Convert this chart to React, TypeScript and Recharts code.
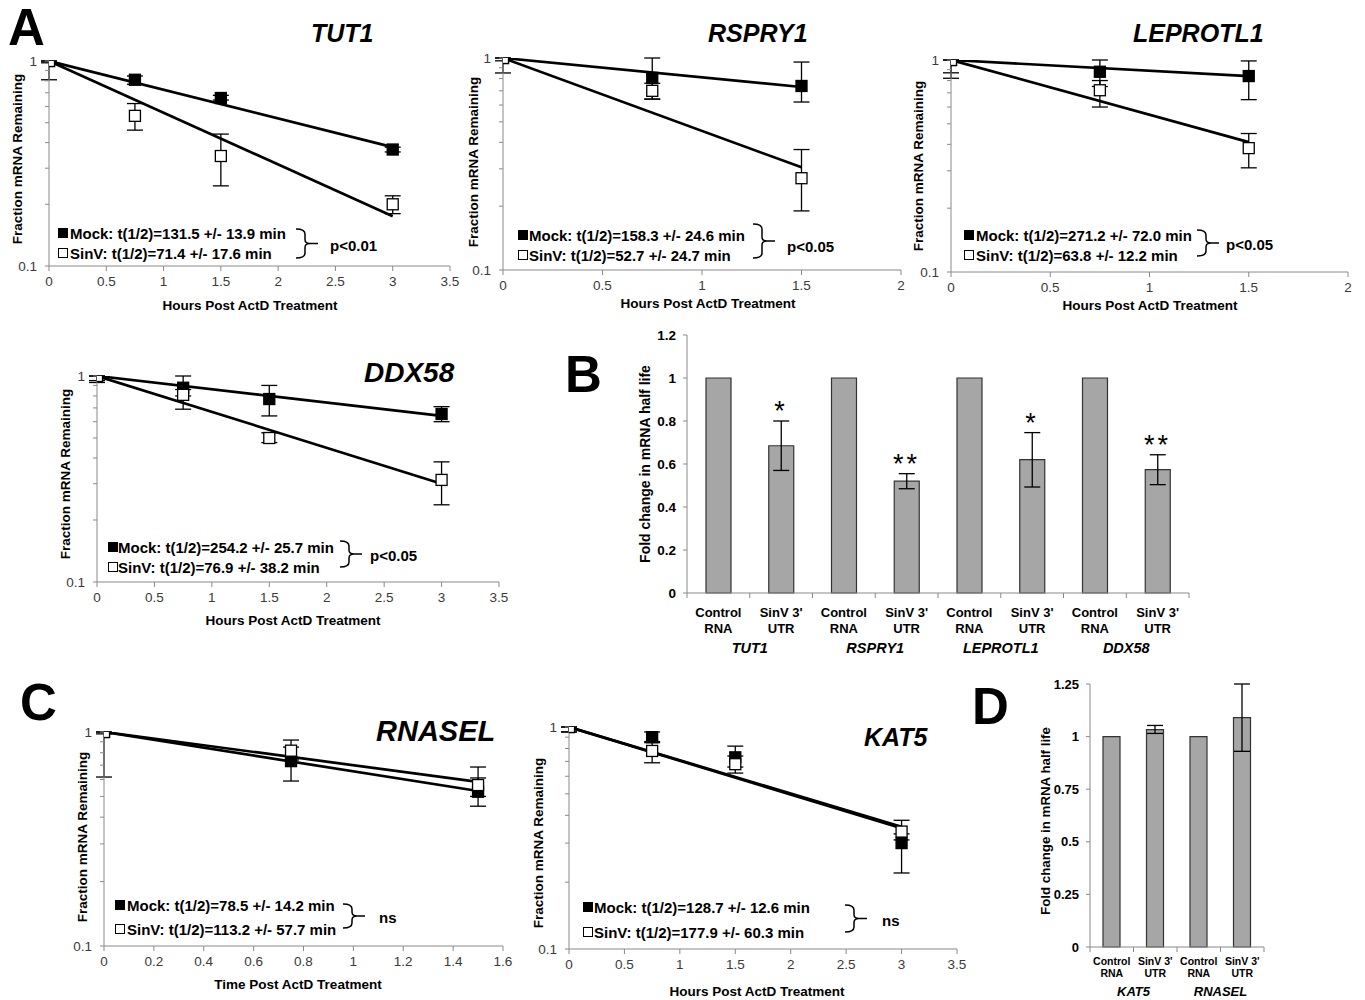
import React from "react";
import {
  ComposedChart,
  Scatter,
  Line,
  Bar,
  XAxis,
  YAxis,
  ErrorBar,
  ReferenceDot,
} from "recharts";

const FONT = "'Liberation Sans', Arial, Helvetica, sans-serif";
const AXIS = "#8a8a8a";
const TICK = "#3a3a3a";

// ---------- decay curves (A, C) ----------
const logTicks = [0.1, 0.2, 0.3, 0.4, 0.5, 0.6, 0.7, 0.8, 0.9, 1];
const ticks35 = [0, 0.5, 1, 1.5, 2, 2.5, 3, 3.5];
const ticks2 = [0, 0.5, 1, 1.5, 2];
const ticks16 = [0, 0.2, 0.4, 0.6, 0.8, 1, 1.2, 1.4, 1.6];

const hours4 = [0, 0.75, 1.5, 3];
const hours3 = [0, 0.75, 1.5];

// TUT1
const tut1Mock = [1, 0.81, 0.66, 0.37];
const tut1MockLo = [0.81, 0.77, 0.645, 0.36];
const tut1MockHi = [1, 0.845, 0.68, 0.38];
const tut1Sinv = [1, 0.54, 0.344, 0.2];
const tut1SinvLo = [0.98, 0.46, 0.246, 0.18];
const tut1SinvHi = [1, 0.62, 0.44, 0.22];
const tut1Fit = { mock: [1, 0.38], sinv: [1, 0.175] };

// RSPRY1
const rspMock = [1, 0.805, 0.738];
const rspMockLo = [0.85, 0.64, 0.62];
const rspMockHi = [1, 1.0, 0.957];
const rspSinv = [1, 0.7, 0.271];
const rspSinvLo = [0.97, 0.64, 0.19];
const rspSinvHi = [1, 0.76, 0.37];
const rspFit = { mock: [1, 0.73], sinv: [1, 0.305] };

// LEPROTL1
const lepMock = [1, 0.88, 0.84];
const lepMockLo = [0.82, 0.75, 0.65];
const lepMockHi = [1, 1.0, 0.99];
const lepSinv = [1, 0.72, 0.384];
const lepSinvLo = [0.87, 0.6, 0.31];
const lepSinvHi = [1, 0.8, 0.45];
const lepFit = { mock: [1, 0.84], sinv: [1, 0.41] };

// DDX58
const ddxMock = [1, 0.877, 0.773, 0.654];
const ddxMockLo = [0.93, 0.8, 0.64, 0.6];
const ddxMockHi = [1, 1.0, 0.9, 0.71];
const ddxSinv = [1, 0.81, 0.5, 0.313];
const ddxSinvLo = [0.95, 0.69, 0.475, 0.237];
const ddxSinvHi = [1, 0.86, 0.53, 0.383];
const ddxFit = { mock: [1, 0.64], sinv: [1, 0.3] };

// RNASEL
const rnaMock = [1, 0.731, 0.526];
const rnaMockLo = [0.616, 0.59, 0.45];
const rnaMockHi = [1, 0.85, 0.61];
const rnaSinv = [1, 0.818, 0.565];
const rnaSinvLo = [0.98, 0.74, 0.5];
const rnaSinvHi = [1, 0.917, 0.686];
const rnaFit = { mock: [1, 0.53], sinv: [1, 0.585] };

// KAT5
const katMock = [1, 0.9, 0.73, 0.3];
const katMockLo = [0.95, 0.86, 0.66, 0.22];
const katMockHi = [1, 0.95, 0.82, 0.33];
const katSinv = [1, 0.78, 0.68, 0.338];
const katSinvLo = [0.95, 0.69, 0.62, 0.31];
const katSinvHi = [1, 0.85, 0.74, 0.38];
const katFit = { mock: [1, 0.35], sinv: [1, 0.355] };

// ---------- fold change bars (B, D) ----------
const bKeys = ["TUT1-c", "TUT1-s", "RSPRY1-c", "RSPRY1-s", "LEPROTL1-c", "LEPROTL1-s", "DDX58-c", "DDX58-s"];
const bValues = [1, 0.685, 1, 0.52, 1, 0.62, 1, 0.574];
const bErrLo = [null, 0.57, null, 0.485, null, 0.493, null, 0.504];
const bErrHi = [null, 0.8, null, 0.555, null, 0.746, null, 0.643];
const bStars = ["", "*", "", "**", "", "*", "", "**"];
const bGenes = ["TUT1", "RSPRY1", "LEPROTL1", "DDX58"];
const bTicks = [0, 0.2, 0.4, 0.6, 0.8, 1, 1.2];

const dKeys = ["KAT5-c", "KAT5-s", "RNASEL-c", "RNASEL-s"];
const dValues = [1, 1.033, 1, 1.09];
const dErrLo = [null, 1.015, null, 0.93];
const dErrHi = [null, 1.053, null, 1.25];
const dGenes = ["KAT5", "RNASEL"];
const dTicks = [0, 0.25, 0.5, 0.75, 1, 1.25];

const catTop = ["Control", "SinV 3'"];
const catBottom = ["RNA", "UTR"];

const pts = (xs: number[], ys: number[], lo: number[], hi: number[]) =>
  xs.map((x, i) => ({ x, y: ys[i], err: [ys[i] - lo[i], hi[i] - ys[i]] }));
const fitLine = (xs: number[], ys: number[]) => [
  { x: xs[0], y: ys[0] },
  { x: xs[xs.length - 1], y: ys[1] },
];
const bars = (keys: string[], vals: number[], lo: any[], hi: any[]) =>
  keys.map((key, i) => ({
    key,
    v: vals[i],
    err: lo[i] == null ? null : [vals[i] - lo[i], hi[i] - vals[i]],
  }));

const square = (fill: string) => (p: any) => (
  <rect x={p.cx - 5.5} y={p.cy - 5.5} width={11} height={11} fill={fill} stroke="#000" strokeWidth={1.3} />
);

function DecayChart({ box, xTicks, mock, sinv, fitMock, fitSinv }: any) {
  const [px, py, pw, ph] = box;
  return (
    <div style={{ position: "absolute", left: px - 45, top: py - 10 }}>
      <ComposedChart width={pw + 55} height={ph + 40} margin={{ top: 10, right: 10, left: 0, bottom: 0 }}>
        <XAxis
          type="number"
          dataKey="x"
          domain={[0, xTicks[xTicks.length - 1]]}
          ticks={xTicks}
          interval={0}
          allowDataOverflow
          height={30}
          tickSize={5}
          tickMargin={5}
          axisLine={{ stroke: AXIS }}
          tickLine={{ stroke: AXIS }}
          tick={{ fontSize: 13.5, fill: TICK, fontFamily: FONT }}
        />
        <YAxis
          type="number"
          dataKey="y"
          scale="log"
          domain={[0.1, 1]}
          ticks={logTicks}
          interval={0}
          allowDataOverflow
          width={45}
          tickSize={4}
          tickMargin={8}
          axisLine={{ stroke: AXIS }}
          tickLine={{ stroke: AXIS }}
          tick={{ fontSize: 13.5, fill: TICK, fontFamily: FONT }}
          tickFormatter={(v: number) => (v === 1 || v === 0.1 ? String(v) : "")}
        />
        <Scatter data={mock} dataKey="y" shape={square("#000")} isAnimationActive={false}>
          <ErrorBar dataKey="err" direction="y" width={8} stroke="#000" strokeWidth={1.3} />
        </Scatter>
        <Scatter data={sinv} dataKey="y" shape={square("#fff")} isAnimationActive={false}>
          <ErrorBar dataKey="err" direction="y" width={8} stroke="#000" strokeWidth={1.3} />
        </Scatter>
        <Line data={fitMock} dataKey="y" dot={false} stroke="#000" strokeWidth={2.7} isAnimationActive={false} />
        <Line data={fitSinv} dataKey="y" dot={false} stroke="#000" strokeWidth={2.7} isAnimationActive={false} />
      </ComposedChart>
    </div>
  );
}

function makeCatTick(band: number, genes: string[], size: number, geneSize: number, rows: number[]) {
  return (props: any) => {
    const { x, y, index, visibleTicksCount } = props;
    const last = index === (visibleTicksCount ?? 0) - 1;
    return (
      <g fontFamily={FONT} fontWeight="bold" textAnchor="middle" fill="#000">
        <line x1={x - band / 2} x2={x - band / 2} y1={y} y2={y + 5} stroke={AXIS} />
        {last && <line x1={x + band / 2} x2={x + band / 2} y1={y} y2={y + 5} stroke={AXIS} />}
        <text x={x} y={y + rows[0]} fontSize={size} dominantBaseline="central">
          {catTop[index % 2]}
        </text>
        <text x={x} y={y + rows[1]} fontSize={size} dominantBaseline="central">
          {catBottom[index % 2]}
        </text>
        {index % 2 === 0 && (
          <text x={x + band / 2} y={y + rows[2]} fontSize={geneSize} fontStyle="italic" dominantBaseline="central">
            {genes[index / 2]}
          </text>
        )}
      </g>
    );
  };
}

function FoldChart({ box, data, ticks, barSize, genes, stars, errHi, keys, labelSize, geneSize, rows, tickFont }: any) {
  const [px, py, pw, ph] = box;
  const band = pw / data.length;
  return (
    <div style={{ position: "absolute", left: px - 50, top: py - 10 }}>
      <ComposedChart width={pw + 60} height={ph + 80} data={data} margin={{ top: 10, right: 10, left: 0, bottom: 0 }}>
        <XAxis
          dataKey="key"
          type="category"
          interval={0}
          height={70}
          tickLine={false}
          tickSize={0}
          tickMargin={0}
          axisLine={{ stroke: AXIS }}
          tick={makeCatTick(band, genes, labelSize, geneSize, rows)}
        />
        <YAxis
          type="number"
          domain={[ticks[0], ticks[ticks.length - 1]]}
          ticks={ticks}
          interval={0}
          width={50}
          tickSize={4}
          tickMargin={7}
          axisLine={{ stroke: AXIS }}
          tickLine={{ stroke: AXIS }}
          tick={{ fontSize: tickFont, fill: "#000", fontWeight: "bold", fontFamily: FONT }}
        />
        <Bar dataKey="v" barSize={barSize} fill="#a6a6a6" stroke="#333" strokeWidth={1.2} isAnimationActive={false}>
          <ErrorBar dataKey="err" direction="y" width={8} stroke="#000" strokeWidth={1.3} />
        </Bar>
        {stars &&
          stars.map((s: string, i: number) =>
            s ? (
              <ReferenceDot
                key={keys[i]}
                x={keys[i]}
                y={errHi[i]}
                r={0}
                fill="none"
                stroke="none"
                label={{ value: s, position: "top", offset: 1, fontSize: 27, fill: "#000", fontFamily: FONT, letterSpacing: 3 }}
              />
            ) : null
          )}
      </ComposedChart>
    </div>
  );
}

// ---------- overlay text ----------
const legends = [
  ["Mock: t(1/2)=131.5 +/- 13.9 min", "SinV: t(1/2)=71.4 +/- 17.6 min", "p<0.01"],
  ["Mock: t(1/2)=158.3 +/- 24.6 min", "SinV: t(1/2)=52.7 +/- 24.7 min", "p<0.05"],
  ["Mock: t(1/2)=271.2 +/- 72.0 min", "SinV: t(1/2)=63.8 +/- 12.2 min", "p<0.05"],
  ["Mock: t(1/2)=254.2 +/- 25.7 min", "SinV: t(1/2)=76.9 +/- 38.2 min", "p<0.05"],
  ["Mock: t(1/2)=78.5 +/- 14.2 min", "SinV: t(1/2)=113.2 +/- 57.7 min", "ns"],
  ["Mock: t(1/2)=128.7 +/- 12.6 min", "SinV: t(1/2)=177.9 +/- 60.3 min", "ns"],
];

function Legend({ txt, sq, tx, y1, y2, bx, by0, by1, pxp, py }: any) {
  const m = (by0 + by1) / 2;
  const v = bx + 9;
  return (
    <g fontFamily={FONT} fontWeight="bold" fontSize={15} fill="#000">
      <rect x={sq} y={y1 - 5} width={10} height={10} fill="#000" />
      <rect x={sq + 0.5} y={y2 - 4.5} width={9} height={9} fill="#fff" stroke="#000" strokeWidth={1} />
      <text x={tx} y={y1} dominantBaseline="central">{txt[0]}</text>
      <text x={tx} y={y2} dominantBaseline="central">{txt[1]}</text>
      <path
        d={`M${bx} ${by0} Q${v} ${by0} ${v} ${by0 + 5} L${v} ${m - 4} Q${v} ${m} ${v + 5} ${m} L${bx + 22} ${m} M${v + 5} ${m} Q${v} ${m} ${v} ${m + 4} L${v} ${by1 - 5} Q${v} ${by1} ${bx} ${by1}`}
        fill="none"
        stroke="#000"
        strokeWidth={1.5}
      />
      <text x={pxp} y={py} dominantBaseline="central">{txt[2]}</text>
    </g>
  );
}

function AxisTitles({ x, xy, y, yy, label, size = 13.5 }: any) {
  return (
    <g fontFamily={FONT} fontWeight="bold" fontSize={size} fill="#000" textAnchor="middle">
      <text x={x} y={xy} dominantBaseline="central">{label ?? "Hours Post ActD Treatment"}</text>
      <text x={y} y={yy} dominantBaseline="central" transform={`rotate(-90 ${y} ${yy})`}>
        Fraction mRNA Remaining
      </text>
    </g>
  );
}

export default function App() {
  const title = (t: string, x: number, y: number, s: number) => (
    <text x={x} y={y} fontFamily={FONT} fontWeight="bold" fontStyle="italic" fontSize={s} dominantBaseline="central">
      {t}
    </text>
  );
  const letter = (t: string, x: number, y: number) => (
    <text x={x} y={y} fontFamily={FONT} fontWeight="bold" fontSize={51}>
      {t}
    </text>
  );
  return (
    <div style={{ position: "absolute", left: 0, top: 0, width: 1365, height: 1000, background: "#fff" }}>
      <DecayChart
        box={[49, 61, 401, 205]}
        xTicks={ticks35}
        mock={pts(hours4, tut1Mock, tut1MockLo, tut1MockHi)}
        sinv={pts(hours4, tut1Sinv, tut1SinvLo, tut1SinvHi)}
        fitMock={fitLine(hours4, tut1Fit.mock)}
        fitSinv={fitLine(hours4, tut1Fit.sinv)}
      />
      <DecayChart
        box={[503, 58, 398, 212]}
        xTicks={ticks2}
        mock={pts(hours3, rspMock, rspMockLo, rspMockHi)}
        sinv={pts(hours3, rspSinv, rspSinvLo, rspSinvHi)}
        fitMock={fitLine(hours3, rspFit.mock)}
        fitSinv={fitLine(hours3, rspFit.sinv)}
      />
      <DecayChart
        box={[951, 60, 397, 212]}
        xTicks={ticks2}
        mock={pts(hours3, lepMock, lepMockLo, lepMockHi)}
        sinv={pts(hours3, lepSinv, lepSinvLo, lepSinvHi)}
        fitMock={fitLine(hours3, lepFit.mock)}
        fitSinv={fitLine(hours3, lepFit.sinv)}
      />
      <DecayChart
        box={[97, 376, 402, 206]}
        xTicks={ticks35}
        mock={pts(hours4, ddxMock, ddxMockLo, ddxMockHi)}
        sinv={pts(hours4, ddxSinv, ddxSinvLo, ddxSinvHi)}
        fitMock={fitLine(hours4, ddxFit.mock)}
        fitSinv={fitLine(hours4, ddxFit.sinv)}
      />
      <DecayChart
        box={[104, 732, 399, 214]}
        xTicks={ticks16}
        mock={pts(hours3, rnaMock, rnaMockLo, rnaMockHi)}
        sinv={pts(hours3, rnaSinv, rnaSinvLo, rnaSinvHi)}
        fitMock={fitLine(hours3, rnaFit.mock)}
        fitSinv={fitLine(hours3, rnaFit.sinv)}
      />
      <DecayChart
        box={[569, 727, 388, 222]}
        xTicks={ticks35}
        mock={pts(hours4, katMock, katMockLo, katMockHi)}
        sinv={pts(hours4, katSinv, katSinvLo, katSinvHi)}
        fitMock={fitLine(hours4, katFit.mock)}
        fitSinv={fitLine(hours4, katFit.sinv)}
      />
      <FoldChart
        box={[687, 335, 502, 258]}
        data={bars(bKeys, bValues, bErrLo, bErrHi)}
        ticks={bTicks}
        barSize={25}
        genes={bGenes}
        stars={bStars}
        errHi={bErrHi}
        keys={bKeys}
        labelSize={13}
        geneSize={14.5}
        rows={[19, 35, 55]}
        tickFont={13.5}
      />
      <FoldChart
        box={[1090, 684, 174, 263]}
        data={bars(dKeys, dValues, dErrLo, dErrHi)}
        ticks={dTicks}
        barSize={17}
        genes={dGenes}
        keys={dKeys}
        errHi={dErrHi}
        labelSize={10.5}
        geneSize={13}
        rows={[14, 26, 44]}
        tickFont={13}
      />
      <svg width={1365} height={1000} style={{ position: "absolute", left: 0, top: 0, pointerEvents: "none" }}>
        {letter("A", 8, 45)}
        {letter("B", 565, 392)}
        {letter("C", 20, 720)}
        {letter("D", 972, 724)}

        {title("TUT1", 311, 33, 25)}
        {title("RSPRY1", 708, 33, 25)}
        {title("LEPROTL1", 1133, 33, 25)}
        {title("DDX58", 364, 372, 28)}
        {title("RNASEL", 376, 731, 29)}
        {title("KAT5", 864, 737, 25)}

        <Legend txt={legends[0]} sq={58} tx={70} y1={233} y2={253} bx={296} by0={229} by1={258} pxp={330} py={245} />
        <Legend txt={legends[1]} sq={518} tx={529} y1={235} y2={255} bx={753} by0={224} by1={258} pxp={787} py={246} />
        <Legend txt={legends[2]} sq={964} tx={976} y1={235} y2={255} bx={1197} by0={230} by1={256} pxp={1226} py={244} />
        <Legend txt={legends[3]} sq={108} tx={118} y1={547} y2={567} bx={340} by0={541} by1={567} pxp={370} py={555} />
        <Legend txt={legends[4]} sq={115} tx={127} y1={905} y2={929} bx={343} by0={904} by1={928} pxp={379} py={917} />
        <Legend txt={legends[5]} sq={583} tx={594} y1={907} y2={932} bx={845} by0={905} by1={932} pxp={882} py={920} />

        <AxisTitles x={250} xy={305} y={17} yy={159} />
        <AxisTitles x={708} xy={303} y={473} yy={162} />
        <AxisTitles x={1150} xy={305} y={918} yy={166} />
        <AxisTitles x={293} xy={620} y={65} yy={474} />
        <AxisTitles x={298} xy={984} y={82} yy={837} label="Time Post ActD Treatment" />
        <AxisTitles x={757} xy={991} y={538} yy={843} />

        <g fontFamily={FONT} fontWeight="bold" fill="#000" textAnchor="middle">
          <text x={645} y={464} fontSize={14} dominantBaseline="central" transform="rotate(-90 645 464)">
            Fold change in mRNA half life
          </text>
          <text x={1045} y={821} fontSize={13.3} dominantBaseline="central" transform="rotate(-90 1045 821)">
            Fold change in mRNA half life
          </text>
        </g>
      </svg>
    </div>
  );
}
